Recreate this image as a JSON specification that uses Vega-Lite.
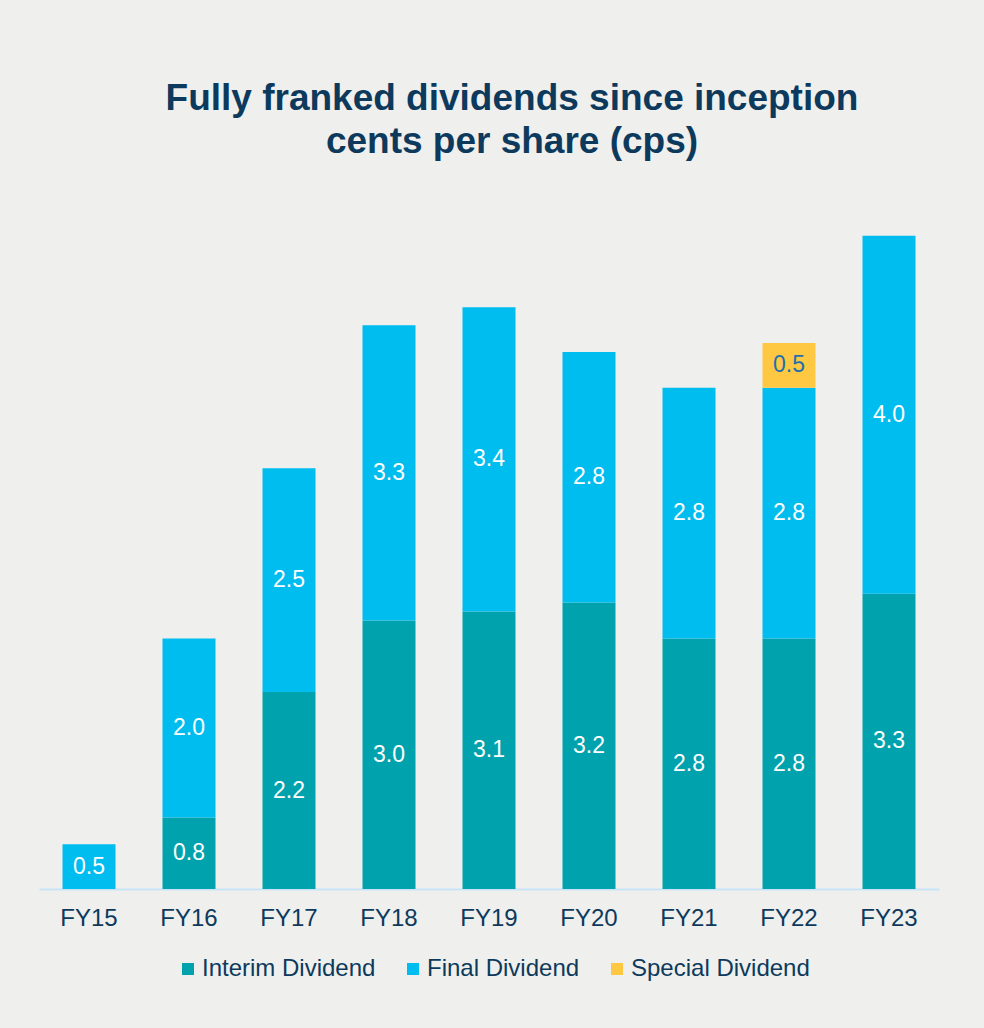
{
  "$schema": "https://vega.github.io/schema/vega-lite/v6.json",
  "autosize": {"type": "none"},
  "width": 900,
  "height": 716,
  "padding": {"left": 39, "top": 173, "right": 45, "bottom": 139},
  "background": "#efefed",
  "title": {
    "text": ["Fully franked dividends since inception", "cents per share (cps)"],
    "font": "Arial",
    "fontSize": 37,
    "fontWeight": "bold",
    "color": "#0d3a5c",
    "lineHeight": 43,
    "anchor": "middle",
    "frame": "group",
    "dx": 23,
    "offset": 12
  },
  "config": {
    "view": {"stroke": null},
    "font": "Arial"
  },
  "data": {
    "values": [
      {"year": "FY15", "type": "Final Dividend", "value": 0.5, "order": 2},
      {"year": "FY16", "type": "Interim Dividend", "value": 0.8, "order": 1},
      {"year": "FY16", "type": "Final Dividend", "value": 2.0, "order": 2},
      {"year": "FY17", "type": "Interim Dividend", "value": 2.2, "order": 1},
      {"year": "FY17", "type": "Final Dividend", "value": 2.5, "order": 2},
      {"year": "FY18", "type": "Interim Dividend", "value": 3.0, "order": 1},
      {"year": "FY18", "type": "Final Dividend", "value": 3.3, "order": 2},
      {"year": "FY19", "type": "Interim Dividend", "value": 3.1, "order": 1},
      {"year": "FY19", "type": "Final Dividend", "value": 3.4, "order": 2},
      {"year": "FY20", "type": "Interim Dividend", "value": 3.2, "order": 1},
      {"year": "FY20", "type": "Final Dividend", "value": 2.8, "order": 2},
      {"year": "FY21", "type": "Interim Dividend", "value": 2.8, "order": 1},
      {"year": "FY21", "type": "Final Dividend", "value": 2.8, "order": 2},
      {"year": "FY22", "type": "Interim Dividend", "value": 2.8, "order": 1},
      {"year": "FY22", "type": "Final Dividend", "value": 2.8, "order": 2},
      {"year": "FY22", "type": "Special Dividend", "value": 0.5, "order": 3},
      {"year": "FY23", "type": "Interim Dividend", "value": 3.3, "order": 1},
      {"year": "FY23", "type": "Final Dividend", "value": 4.0, "order": 2}
    ]
  },
  "encoding": {
    "x": {
      "field": "year",
      "type": "nominal",
      "sort": null,
      "scale": {"paddingInner": 0.47, "paddingOuter": 0.235},
      "axis": {
        "title": null,
        "labelAngle": 0,
        "labelFont": "Arial",
        "labelFontSize": 24,
        "labelColor": "#0d3a5c",
        "labelPadding": 17,
        "ticks": false,
        "domainColor": "#c8e4f7",
        "domainWidth": 2
      }
    },
    "y": {
      "field": "value",
      "type": "quantitative",
      "stack": "zero",
      "scale": {"domain": [0, 8], "nice": false},
      "axis": null
    },
    "order": {"field": "order", "type": "quantitative"}
  },
  "layer": [
    {
      "mark": {"type": "bar"},
      "encoding": {
        "color": {
          "field": "type",
          "type": "nominal",
          "scale": {
            "domain": ["Interim Dividend", "Final Dividend", "Special Dividend"],
            "range": ["#00a3ad", "#00bdef", "#ffc843"]
          },
          "legend": {
            "title": null,
            "orient": "none",
            "legendX": 137,
            "legendY": 784,
            "direction": "horizontal",
            "symbolType": "square",
            "symbolSize": 144,
            "symbolStrokeWidth": 0,
            "symbolOpacity": 1,
            "labelFont": "Arial",
            "labelFontSize": 24,
            "labelColor": "#0d3a5c",
            "labelLimit": 400,
            "labelOffset": 2,
            "columnPadding": 25
          }
        }
      }
    },
    {
      "mark": {"type": "text", "font": "Arial", "fontSize": 23, "baseline": "middle", "align": "center"},
      "encoding": {
        "y": {
          "field": "value",
          "type": "quantitative",
          "stack": "zero",
          "bandPosition": 0.5
        },
        "detail": {"field": "type"},
        "text": {"field": "value", "type": "quantitative", "format": ".1f"},
        "color": {
          "condition": {"test": "datum.type === 'Special Dividend'", "value": "#1e6fb0"},
          "value": "#ffffff"
        }
      }
    }
  ]
}
